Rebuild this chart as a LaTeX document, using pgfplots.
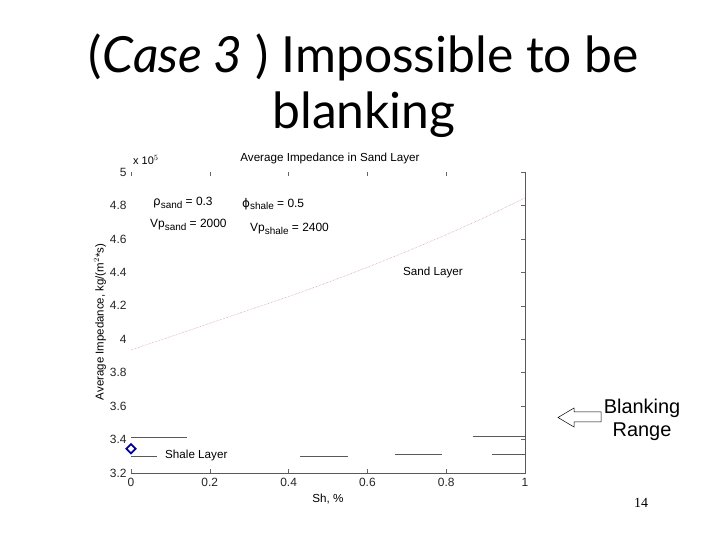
\documentclass[border=0pt]{standalone}
\usepackage{fontspec}
\setmainfont{Liberation Sans}
\newfontfamily\titlefont{Lato}
\newfontfamily\numfont{Liberation Serif}
\newfontfamily\symfont{DejaVu Sans}
\usepackage{pgfplots}
\pgfplotsset{compat=1.18}
\definecolor{sandline}{RGB}{200,140,160}
\newcommand{\sub}[1]{\raisebox{-0.45ex}{\fontsize{10}{11}\selectfont #1}}
\begin{document}
\begin{tikzpicture}
\fill[white] (0,0) rectangle (720bp,540bp);
\begin{axis}[
  at={(131bp,67bp)}, anchor=south west,
  scale only axis, width=394bp, height=301bp,
  xmin=0, xmax=1, ymin=3.2, ymax=5,
  xtick={0,0.2,0.4,0.6,0.8,1},
  ytick={3.2,3.4,3.6,3.8,4,4.2,4.4,4.6,4.8,5},
  axis line style={draw=none},
  tick style={gray!80!black, line width=0.4pt},
  major tick length=4bp,
  tick align=inside,
  ytick pos=right, yticklabel pos=left,
  xtick pos=both, xticklabel pos=bottom,
  ticklabel style={font=\fontsize{12}{14}\selectfont, text=black!85},
  /pgf/number format/assume math mode=true,
  yticklabel style={xshift=-1bp},
  xticklabel style={yshift=-1.5bp},
  clip=false,
]
\draw[gray!70!black, line width=0.5pt] (rel axis cs:0,0) -- (rel axis cs:1,0) -- (rel axis cs:1,1);
\addplot[sandline, densely dotted, line width=0.5pt] coordinates {
 (0,3.936) (0.1,4.015) (0.2,4.095) (0.3,4.175) (0.4,4.255) (0.5,4.34)
 (0.6,4.43) (0.7,4.525) (0.8,4.625) (0.9,4.73) (1,4.845)};
\addplot[gray!70!black, line width=0.5pt] coordinates {(0,3.415) (0.142,3.415)};
\addplot[gray!70!black, line width=0.5pt] coordinates {(0,3.298) (0.066,3.298)};
\addplot[gray!70!black, line width=0.5pt] coordinates {(0.43,3.30) (0.55,3.30)};
\addplot[gray!70!black, line width=0.5pt] coordinates {(0.67,3.31) (0.79,3.31)};
\addplot[gray!70!black, line width=0.5pt] coordinates {(0.868,3.42) (1,3.42)};
\addplot[gray!70!black, line width=0.5pt] coordinates {(0.916,3.31) (1,3.31)};
\addplot[only marks, mark=square, mark options={rotate=45}, mark size=3.2bp, blue!60!black, line width=1.8pt] coordinates {(0,3.345)};
\end{axis}
% axis texts
\node[font=\fontsize{11}{12}\selectfont, anchor=west, inner sep=0] at (133bp,380bp) {x 10$^{5}$};
\node[font=\fontsize{11.7}{13}\selectfont] at (330bp,382bp) {Average Impedance in Sand Layer};
\node[font=\fontsize{11.7}{13}\selectfont] at (328bp,41bp) {Sh, \%};
\node[font=\fontsize{11.5}{13}\selectfont, rotate=90] at (100bp,218bp) {Average Impedance, kg/(m$^2$*s)};
\node[font=\fontsize{12}{13}\selectfont, anchor=west, inner sep=0] at (153bp,337bp) {{\symfont ρ}\sub{sand} = 0.3};
\node[font=\fontsize{12}{13}\selectfont, anchor=west, inner sep=0] at (242bp,336bp) {{\symfont ϕ}\sub{shale} = 0.5};
\node[font=\fontsize{12}{13}\selectfont, anchor=west, inner sep=0] at (150bp,315bp) {Vp\sub{sand} = 2000};
\node[font=\fontsize{12}{13}\selectfont, anchor=west, inner sep=0] at (250bp,311bp) {Vp\sub{shale} = 2400};
\node[font=\fontsize{11.7}{13}\selectfont, anchor=west, inner sep=0] at (403bp,268bp) {Sand Layer};
\node[font=\fontsize{11.7}{13}\selectfont, anchor=west, inner sep=0] at (165bp,85bp) {Shale Layer};
% slide title
\node[font=\titlefont\fontsize{50}{56}\selectfont, align=center] at (364bp,454bp) {(\textit{Case 3} ) Impossible to be\\blanking};
% blanking range
\node[font=\fontsize{20}{23}\selectfont, align=center] at (642bp,120bp) {Blanking\\Range};
\draw[black, line width=0.5pt] (601bp,128bp) -- (574bp,128bp) -- (574bp,132bp) -- (558bp,122.5bp) -- (574bp,113bp) -- (574bp,118bp) -- (601bp,118bp) -- cycle;
\node[font=\numfont\fontsize{14}{16}\selectfont] at (641bp,37bp) {14};
\end{tikzpicture}
\end{document}
